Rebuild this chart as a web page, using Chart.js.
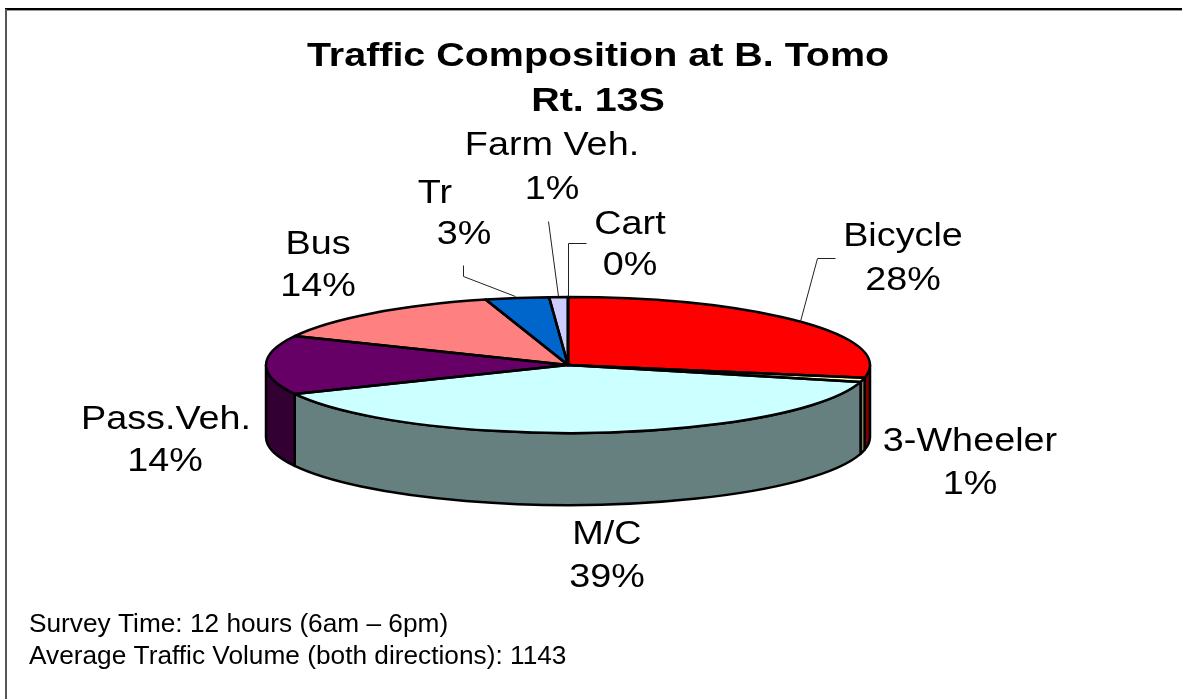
<!DOCTYPE html>
<html><head><meta charset="utf-8">
<style>html,body{margin:0;padding:0;background:#fff}#w{width:1182px;height:699px;position:relative}</style>
<script src="https://cdn.jsdelivr.net/npm/chart.js@4/dist/chart.umd.min.js"></script>
</head><body><div id="w"><canvas id="c" width="1182" height="699"></canvas></div>
<script>
const categories = ['Bicycle','3-Wheeler','M/C','Pass.Veh.','Bus','Tr','Farm Veh.','Cart'];
const shares = [28,1,39,14,13.6,3.4,1,0];
const topColors = ['#FF0000','#FFFFCC','#CCFFFF','#660066','#FF8080','#0066CC','#CCCCFF','#FFFFFF'];
const sideColors = ['#800000','#808066','#668080','#330033','#804040','#003366','#666680','#808080'];
const titleLines = ['Traffic Composition at B. Tomo','Rt. 13S'];
const noteLines = ['Survey Time: 12 hours (6am – 6pm)','Average Traffic Volume (both directions): 1143'];

const view = {cx:568, cy:365, rx:302, ry:68, depth:72};
const family = '"Liberation Sans", Arial, sans-serif';
const stretch = 1.145;
const labelPos = [
  [[903,237],[903,281]],
  [[970,442],[970,485]],
  [[607,535],[607,578]],
  [[166,420],[165,462]],
  [[318,245],[318,287]],
  [[435,194],[464,235]],
  [[552,146],[552,190]],
  [[630,225],[630,266]]
];
const leaders = [
  [[800,321],[817,258],[835,258]],
  [[463,265],[463,276],[515,296]],
  [[548,221],[558,296]],
  [[568,296],[568,243],[586,243]]
];

function wideText(ctx,t,x,y,k){
  ctx.save(); ctx.translate(x,y); ctx.scale(k,1); ctx.fillText(t,0,0); ctx.restore();
}

const pie3d = {
  id:'pie3d',
  beforeDatasetsDraw(chart){
    const ctx = chart.ctx, arcs = chart.getDatasetMeta(0).data, a0 = arcs[0];
    const R = a0.outerRadius;
    this.sx = view.rx/R; this.sy = view.ry/R;
    const ellipse = (dy,from,to,ccw)=>ctx.ellipse(view.cx,view.cy+dy,view.rx,view.ry,0,from,to,ccw);
    ctx.save();
    ctx.fillStyle='#999';
    ctx.fillRect(6,10,1176,1);
    ctx.fillStyle='#000';
    ctx.fillRect(5,8,1177,2);
    ctx.fillStyle='#555';
    ctx.fillRect(5,9,2,690);
    ctx.lineWidth=2.5; ctx.strokeStyle='#000'; ctx.lineJoin='round';
    arcs.forEach((a,i)=>{
      const s=Math.max(a.startAngle,0), e=Math.min(a.endAngle,Math.PI);
      if(e<=s) return;
      ctx.beginPath();
      ellipse(0,s,e,false);
      ellipse(view.depth,e,s,true);
      ctx.closePath();
      ctx.fillStyle=sideColors[i]; ctx.fill(); ctx.stroke();
    });
    ctx.restore();
    ctx.save();
    ctx.translate(view.cx,view.cy);
    ctx.scale(this.sx,this.sy);
    ctx.translate(-a0.x,-a0.y);
  },
  afterDatasetsDraw(chart){
    const ctx = chart.ctx, arcs = chart.getDatasetMeta(0).data;
    ctx.restore();
    ctx.save();
    ctx.lineWidth=2.5; ctx.strokeStyle='#000'; ctx.lineJoin='round';
    arcs.forEach(a=>{
      ctx.beginPath();
      ctx.moveTo(view.cx,view.cy);
      ctx.ellipse(view.cx,view.cy,view.rx,view.ry,0,a.startAngle,a.endAngle,false);
      ctx.closePath(); ctx.stroke();
    });
    ctx.lineWidth=1; ctx.strokeStyle='#222';
    leaders.forEach(l=>{
      ctx.beginPath();
      l.forEach((p,i)=>i?ctx.lineTo(p[0]+.5,p[1]+.5):ctx.moveTo(p[0]+.5,p[1]+.5));
      ctx.stroke();
    });
    ctx.fillStyle='#000'; ctx.font='33px '+family; ctx.textAlign='center'; ctx.textBaseline='middle';
    categories.forEach((c,i)=>{
      wideText(ctx,c,labelPos[i][0][0],labelPos[i][0][1],stretch);
      wideText(ctx,Math.round(shares[i])+'%',labelPos[i][1][0],labelPos[i][1][1],stretch);
    });
    ctx.font='25px '+family; ctx.textAlign='left'; ctx.textBaseline='alphabetic';
    noteLines.forEach((t,i)=>wideText(ctx,t,29,632+i*31.5,1.05));
    ctx.restore();
  }
};

const titleWiden = {
  id:'titleWiden',
  beforeDraw(chart){
    const t = chart.titleBlock, c=(t.left+t.right)/2;
    if(!t._w){ t._w=true; const d=t.draw.bind(t);
      t.draw=function(){ const x=chart.ctx; x.save(); x.translate(c,0); x.scale(1.16,1); x.translate(-c,0); d(); x.restore(); };
    }
  }
};

new Chart(document.getElementById('c'),{
  type:'pie',
  data:{labels:categories,datasets:[{data:shares,backgroundColor:topColors,borderWidth:0}]},
  options:{
    responsive:false,animation:false,
    layout:{padding:{left:14,right:0,top:0,bottom:0}},
    plugins:{
      legend:{display:false},tooltip:{enabled:false},
      title:{display:true,text:titleLines,color:'#000',padding:{top:34,bottom:10},
        font:{family:family,size:34,weight:'bold',lineHeight:1.32}}
    }
  },
  plugins:[titleWiden,pie3d]
});
</script></body></html>
